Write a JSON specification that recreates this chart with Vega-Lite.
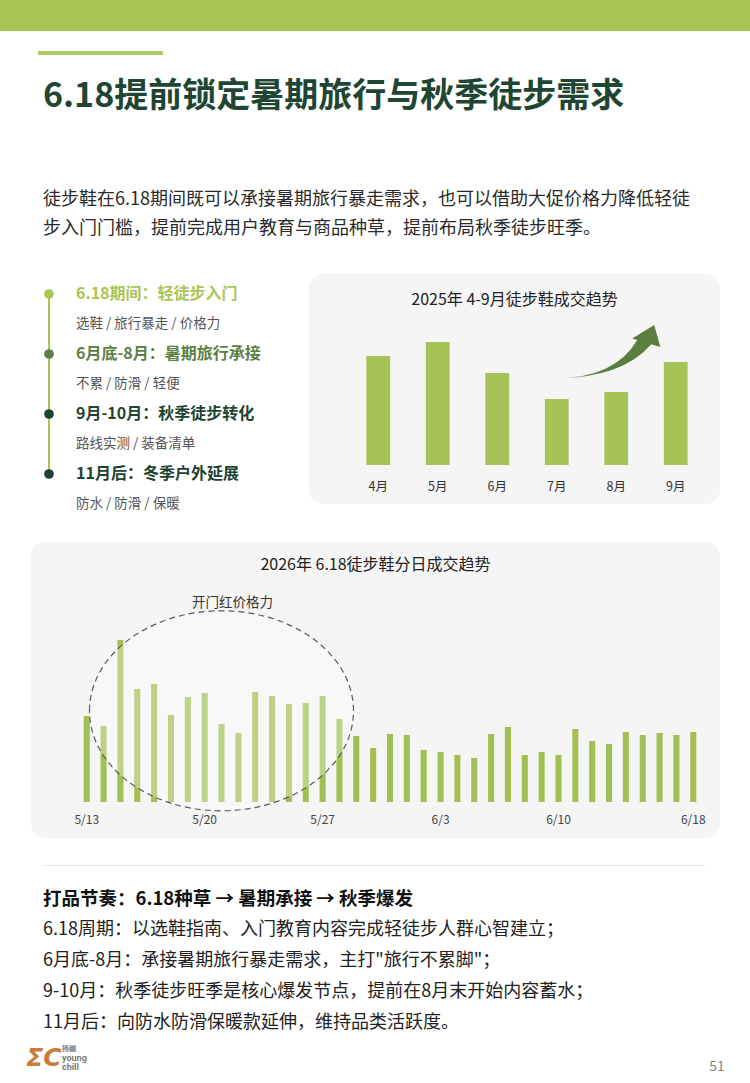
{
  "$schema": "https://vega.github.io/schema/vega-lite/v6.json",
  "description": "6.18提前锁定暑期旅行与秋季徒步需求: page with timeline, monthly trend bars and daily trend bars.",
  "width": 750,
  "height": 1083,
  "padding": 0,
  "autosize": {"type": "none"},
  "background": "#ffffff",
  "layer": [
    {
      "data": {"values": [{"part": "top band"}]},
      "mark": {"type": "rect", "color": "#a9c654"},
      "encoding": {
        "x": {"datum": "left", "type": "nominal", "scale": {"type": "point", "padding": 0, "domain": ["left", "right"], "range": [0, 750]}, "axis": null},
        "x2": {"datum": "right"},
        "y": {"datum": "top", "type": "nominal", "scale": {"type": "point", "padding": 0, "domain": ["top", "bottom"], "range": [0, 31]}, "axis": null},
        "y2": {"datum": "bottom"}
      }
    },
    {
      "data": {"values": [{"part": "accent"}]},
      "mark": {"type": "rect", "color": "#aecb63"},
      "encoding": {
        "x": {"datum": "left", "type": "nominal", "scale": {"type": "point", "padding": 0, "domain": ["left", "right"], "range": [38, 163]}, "axis": null},
        "x2": {"datum": "right"},
        "y": {"datum": "top", "type": "nominal", "scale": {"type": "point", "padding": 0, "domain": ["top", "bottom"], "range": [51, 55]}, "axis": null},
        "y2": {"datum": "bottom"}
      }
    },
    {
      "data": {"values": [{"text": "6.18提前锁定暑期旅行与秋季徒步需求"}]},
      "mark": {"type": "text", "align": "left", "baseline": "middle", "fontSize": 34, "fontWeight": "bold", "color": "#1e4633", "font": "Noto Sans CJK SC"},
      "encoding": {
        "x": {"datum": "start", "type": "nominal", "scale": {"type": "point", "padding": 0, "domain": ["start", "end"], "range": [43, 707]}, "axis": null},
        "y": {"datum": "title", "type": "nominal", "scale": {"type": "point", "padding": 0, "domain": ["title", "lead"], "range": [97, 200]}, "axis": null},
        "text": {"field": "text"}
      }
    },
    {
      "data": {"values": [
        {"line": "p1", "text": "徒步鞋在6.18期间既可以承接暑期旅行暴走需求，也可以借助大促价格力降低轻徒"},
        {"line": "p2", "text": "步入门门槛，提前完成用户教育与商品种草，提前布局秋季徒步旺季。"}
      ]},
      "mark": {"type": "text", "align": "left", "baseline": "middle", "fontSize": 18, "color": "#2a2a2a", "font": "Noto Sans CJK SC"},
      "encoding": {
        "x": {"datum": "start", "type": "nominal", "scale": {"type": "point", "padding": 0, "domain": ["start", "end"], "range": [43, 707]}, "axis": null},
        "y": {"field": "line", "type": "nominal", "scale": {"type": "point", "padding": 0, "domain": ["p1", "p2"], "range": [200, 229]}, "axis": null},
        "text": {"field": "text"}
      }
    },
    {
      "data": {"values": [
        {"row": "h1", "kind": "head", "stage": "s1", "text": "6.18期间：轻徒步入门"},
        {"row": "s1", "kind": "sub", "stage": "s1", "text": "选鞋 / 旅行暴走 / 价格力"},
        {"row": "h2", "kind": "head", "stage": "s2", "text": "6月底-8月：暑期旅行承接"},
        {"row": "s2", "kind": "sub", "stage": "s2", "text": "不累 / 防滑 / 轻便"},
        {"row": "h3", "kind": "head", "stage": "s3", "text": "9月-10月：秋季徒步转化"},
        {"row": "s3", "kind": "sub", "stage": "s3", "text": "路线实测 / 装备清单"},
        {"row": "h4", "kind": "head", "stage": "s4", "text": "11月后：冬季户外延展"},
        {"row": "s4", "kind": "sub", "stage": "s4", "text": "防水 / 防滑 / 保暖"}
      ]},
      "layer": [
        {
          "data": {"values": [{"from": "h1", "to": "h4"}]},
          "mark": {"type": "rule", "color": "#a9c654", "strokeWidth": 2},
          "encoding": {
            "x": {"datum": "dot", "type": "nominal", "scale": {"type": "point", "padding": 0, "domain": ["dot", "text"], "range": [49, 76]}, "axis": null},
            "y": {"field": "from", "type": "nominal", "scale": {"type": "point", "padding": 0, "domain": ["h1", "s1", "h2", "s2", "h3", "s3", "h4", "s4"], "range": [294, 504]}, "axis": null},
            "y2": {"field": "to"}
          }
        },
        {
          "transform": [{"filter": "datum.kind === 'head'"}],
          "mark": {"type": "point", "shape": "circle", "filled": true, "size": 95, "opacity": 1},
          "encoding": {
            "x": {"datum": "dot", "type": "nominal", "axis": null},
            "y": {"field": "row", "type": "nominal", "axis": null},
            "color": {"field": "stage", "type": "nominal", "scale": {"domain": ["s1", "s2", "s3", "s4"], "range": ["#a9c654", "#5e7f46", "#1f4331", "#1f4331"]}, "legend": null}
          }
        },
        {
          "transform": [{"filter": "datum.kind === 'head'"}],
          "mark": {"type": "text", "align": "left", "baseline": "middle", "fontSize": 16, "fontWeight": "bold", "font": "Noto Sans CJK SC"},
          "encoding": {
            "x": {"datum": "text", "type": "nominal", "axis": null},
            "y": {"field": "row", "type": "nominal", "axis": null},
            "color": {"field": "stage", "type": "nominal", "legend": null},
            "text": {"field": "text"}
          }
        },
        {
          "transform": [{"filter": "datum.kind === 'sub'"}],
          "mark": {"type": "text", "align": "left", "baseline": "middle", "fontSize": 13.5, "color": "#555555", "font": "Noto Sans CJK SC"},
          "encoding": {
            "x": {"datum": "text", "type": "nominal", "axis": null},
            "y": {"field": "row", "type": "nominal", "axis": null},
            "text": {"field": "text"}
          }
        }
      ]
    },
    {
      "layer": [
        {
          "data": {"values": [{"text": "2025年 4-9月徒步鞋成交趋势"}]},
          "layer": [
            {
              "mark": {"type": "rect", "color": "#f5f5f5", "cornerRadius": 14},
              "encoding": {
                "x": {"datum": "left", "type": "nominal", "scale": {"type": "point", "padding": 0, "domain": ["left", "mid", "right"], "range": [309, 720]}, "axis": null},
                "x2": {"datum": "right"},
                "y": {"datum": 191, "type": "quantitative", "axis": null},
                "y2": {"datum": -39}
              }
            },
            {
              "mark": {"type": "text", "align": "center", "baseline": "middle", "fontSize": 16, "color": "#222222", "font": "Noto Sans CJK SC"},
              "encoding": {
                "x": {"datum": "mid", "type": "nominal", "axis": null},
                "y": {"datum": 165, "type": "quantitative", "axis": null},
                "text": {"field": "text"}
              }
            }
          ]
        },
        {
          "data": {"values": [
            {"month": "4月", "value": 109},
            {"month": "5月", "value": 123},
            {"month": "6月", "value": 92},
            {"month": "7月", "value": 66},
            {"month": "8月", "value": 73},
            {"month": "9月", "value": 103}
          ]},
          "layer": [
            {
              "mark": {"type": "bar", "color": "#a7c256"},
              "encoding": {
                "x": {"field": "month", "type": "nominal", "scale": {"type": "band", "domain": ["4月", "5月", "6月", "7月", "8月", "9月"], "range": [348.5, 705.5], "paddingInner": 0.6, "paddingOuter": 0.3}, "axis": null},
                "y": {"field": "value", "type": "quantitative", "scale": {"domain": [0, 200], "range": [465, 265], "nice": false}, "axis": null}
              }
            },
            {
              "mark": {"type": "text", "align": "center", "baseline": "middle", "fontSize": 12.5, "color": "#333333", "font": "Noto Sans CJK SC"},
              "encoding": {
                "x": {"field": "month", "type": "nominal", "axis": null},
                "y": {"datum": -22, "type": "quantitative", "axis": null},
                "text": {"field": "month"}
              }
            },
            {
              "data": {"values": [{"note": "trend up"}]},
              "mark": {"type": "point", "shape": "M-61,26Q-1,25.5,21,-12.5L16,-14L38,-27.5L44,-5.5L35,-8.2Q6,25.5,-61,26Z", "size": 4, "filled": true, "color": "#5b7e3c", "opacity": 1},
              "encoding": {
                "x": {"datum": "8月", "type": "nominal", "axis": null},
                "y": {"datum": 112.5, "type": "quantitative", "axis": null}
              }
            }
          ]
        }
      ],
      "resolve": {"scale": {"x": "independent"}}
    },
    {
      "layer": [
        {
          "data": {"values": [{"text": "2026年 6.18徒步鞋分日成交趋势"}]},
          "layer": [
            {
              "mark": {"type": "rect", "color": "#f5f5f5", "cornerRadius": 14},
              "encoding": {
                "x": {"datum": "left", "type": "nominal", "scale": {"type": "point", "padding": 0, "domain": ["left", "mid", "right"], "range": [31, 720]}, "axis": null},
                "x2": {"datum": "right"},
                "y": {"datum": 260, "type": "quantitative", "axis": null},
                "y2": {"datum": -36}
              }
            },
            {
              "mark": {"type": "text", "align": "center", "baseline": "middle", "fontSize": 16, "color": "#222222", "font": "Noto Sans CJK SC"},
              "encoding": {
                "x": {"datum": "mid", "type": "nominal", "axis": null},
                "y": {"datum": 237, "type": "quantitative", "axis": null},
                "text": {"field": "text"}
              }
            }
          ]
        },
        {
          "data": {"values": [
            {"date": "5/13", "value": 86}, {"date": "5/14", "value": 76}, {"date": "5/15", "value": 162},
            {"date": "5/16", "value": 113}, {"date": "5/17", "value": 118}, {"date": "5/18", "value": 87},
            {"date": "5/19", "value": 105}, {"date": "5/20", "value": 109}, {"date": "5/21", "value": 78},
            {"date": "5/22", "value": 69}, {"date": "5/23", "value": 110}, {"date": "5/24", "value": 106},
            {"date": "5/25", "value": 98}, {"date": "5/26", "value": 99}, {"date": "5/27", "value": 106},
            {"date": "5/28", "value": 83}, {"date": "5/29", "value": 66}, {"date": "5/30", "value": 54},
            {"date": "5/31", "value": 68}, {"date": "6/1", "value": 67}, {"date": "6/2", "value": 52},
            {"date": "6/3", "value": 50}, {"date": "6/4", "value": 47}, {"date": "6/5", "value": 44},
            {"date": "6/6", "value": 68}, {"date": "6/7", "value": 75}, {"date": "6/8", "value": 47},
            {"date": "6/9", "value": 50}, {"date": "6/10", "value": 47}, {"date": "6/11", "value": 73},
            {"date": "6/12", "value": 61}, {"date": "6/13", "value": 58}, {"date": "6/14", "value": 70},
            {"date": "6/15", "value": 67}, {"date": "6/16", "value": 69}, {"date": "6/17", "value": 67},
            {"date": "6/18", "value": 70}
          ]},
          "layer": [
            {
              "mark": {"type": "bar", "color": "#a3bf53"},
              "encoding": {
                "x": {"field": "date", "type": "nominal", "scale": {"type": "band", "domain": ["5/13", "5/14", "5/15", "5/16", "5/17", "5/18", "5/19", "5/20", "5/21", "5/22", "5/23", "5/24", "5/25", "5/26", "5/27", "5/28", "5/29", "5/30", "5/31", "6/1", "6/2", "6/3", "6/4", "6/5", "6/6", "6/7", "6/8", "6/9", "6/10", "6/11", "6/12", "6/13", "6/14", "6/15", "6/16", "6/17", "6/18"], "range": [78.3, 701.7], "paddingInner": 0.64, "paddingOuter": 0.32}, "axis": null},
                "y": {"field": "value", "type": "quantitative", "scale": {"domain": [0, 200], "range": [802, 602], "nice": false}, "axis": null}
              }
            },
            {
              "data": {"values": [{"date": "5/13"}, {"date": "5/20"}, {"date": "5/27"}, {"date": "6/3"}, {"date": "6/10"}, {"date": "6/18"}]},
              "mark": {"type": "text", "align": "center", "baseline": "middle", "fontSize": 12, "color": "#444444", "font": "Noto Sans CJK SC"},
              "encoding": {
                "x": {"field": "date", "type": "nominal", "axis": null},
                "y": {"datum": -18, "type": "quantitative", "axis": null},
                "text": {"field": "date"}
              }
            },
            {
              "data": {"values": [{"note": "开门红价格力"}]},
              "mark": {"type": "point", "shape": "M-132,0A132,100,0,1,1,132,0A132,100,0,1,1,-132,0Z", "size": 4, "filled": true, "fill": "#ffffff", "fillOpacity": 0.3, "stroke": "#5a5a5a", "strokeWidth": 1.2, "strokeDash": [6, 4], "opacity": 1},
              "encoding": {
                "x": {"datum": "5/21", "type": "nominal", "axis": null},
                "y": {"datum": 91.2, "type": "quantitative", "axis": null}
              }
            },
            {
              "data": {"values": [{"note": "开门红价格力"}]},
              "mark": {"type": "text", "align": "center", "baseline": "middle", "fontSize": 13.5, "color": "#333333", "dx": 11, "font": "Noto Sans CJK SC"},
              "encoding": {
                "x": {"datum": "5/21", "type": "nominal", "axis": null},
                "y": {"datum": 199, "type": "quantitative", "axis": null},
                "text": {"field": "note"}
              }
            }
          ]
        }
      ],
      "resolve": {"scale": {"x": "independent"}}
    },
    {
      "data": {"values": [{"part": "divider"}]},
      "mark": {"type": "rule", "color": "#e6e6e6", "strokeWidth": 1},
      "encoding": {
        "x": {"datum": "left", "type": "nominal", "scale": {"type": "point", "padding": 0, "domain": ["left", "right"], "range": [43, 705]}, "axis": null},
        "x2": {"datum": "right"},
        "y": {"datum": "divider", "type": "nominal", "scale": {"type": "point", "padding": 0, "domain": ["divider", "below"], "range": [865.5, 900]}, "axis": null}
      }
    },
    {
      "data": {"values": [
        {"line": "l1", "text": "打品节奏：6.18种草 → 暑期承接 → 秋季爆发"},
        {"line": "l2", "text": "6.18周期：以选鞋指南、入门教育内容完成轻徒步人群心智建立；"},
        {"line": "l3", "text": "6月底-8月：承接暑期旅行暴走需求，主打\"旅行不累脚\"；"},
        {"line": "l4", "text": "9-10月：秋季徒步旺季是核心爆发节点，提前在8月末开始内容蓄水；"},
        {"line": "l5", "text": "11月后：向防水防滑保暖款延伸，维持品类活跃度。"}
      ]},
      "layer": [
        {
          "transform": [{"filter": "datum.line === 'l1'"}],
          "mark": {"type": "text", "align": "left", "baseline": "middle", "fontSize": 18.5, "fontWeight": "bold", "color": "#111111", "font": "Noto Sans CJK SC"},
          "encoding": {
            "x": {"datum": "start", "type": "nominal", "scale": {"type": "point", "padding": 0, "domain": ["start", "end"], "range": [43, 707]}, "axis": null},
            "y": {"field": "line", "type": "nominal", "scale": {"type": "point", "padding": 0, "domain": ["l1", "l2", "l3", "l4", "l5"], "range": [899, 1023]}, "axis": null},
            "text": {"field": "text"}
          }
        },
        {
          "transform": [{"filter": "datum.line !== 'l1'"}],
          "mark": {"type": "text", "align": "left", "baseline": "middle", "fontSize": 18, "color": "#222222", "font": "Noto Sans CJK SC"},
          "encoding": {
            "x": {"datum": "start", "type": "nominal", "axis": null},
            "y": {"field": "line", "type": "nominal", "axis": null},
            "text": {"field": "text"}
          }
        }
      ]
    },
    {
      "data": {"values": [
        {"row": "a", "part": "mark", "text": "扬樾"},
        {"row": "b", "part": "word", "text": "young"},
        {"row": "c", "part": "word", "text": "chill"}
      ]},
      "layer": [
        {
          "data": {"values": [{"row": "b", "text": "ΣC"}]},
          "mark": {"type": "text", "align": "center", "baseline": "middle", "fontSize": 25, "fontWeight": "bold", "fontStyle": "italic", "color": "#c97b3a", "font": "DejaVu Sans"},
          "encoding": {
            "x": {"datum": "icon", "type": "nominal", "scale": {"type": "point", "padding": 0, "domain": ["icon", "words"], "range": [44, 62]}, "axis": null},
            "y": {"field": "row", "type": "nominal", "scale": {"type": "point", "padding": 0, "domain": ["a", "b", "c"], "range": [1049, 1067]}, "axis": null},
            "text": {"field": "text"}
          }
        },
        {
          "transform": [{"filter": "datum.part === 'mark'"}],
          "mark": {"type": "text", "align": "left", "baseline": "middle", "fontSize": 7, "fontWeight": "bold", "color": "#7a7a7a", "font": "Noto Sans CJK SC"},
          "encoding": {
            "x": {"datum": "words", "type": "nominal", "axis": null},
            "y": {"field": "row", "type": "nominal", "axis": null},
            "text": {"field": "text"}
          }
        },
        {
          "transform": [{"filter": "datum.part === 'word'"}],
          "mark": {"type": "text", "align": "left", "baseline": "middle", "fontSize": 9, "fontWeight": "bold", "color": "#7a7a7a", "font": "Roboto"},
          "encoding": {
            "x": {"datum": "words", "type": "nominal", "axis": null},
            "y": {"field": "row", "type": "nominal", "axis": null},
            "text": {"field": "text"}
          }
        }
      ]
    },
    {
      "data": {"values": [{"text": "51"}]},
      "mark": {"type": "text", "align": "center", "baseline": "middle", "fontSize": 14, "color": "#888888", "font": "Noto Sans CJK SC"},
      "encoding": {
        "x": {"datum": "page", "type": "nominal", "scale": {"type": "point", "padding": 0, "domain": ["page", "edge"], "range": [717, 750]}, "axis": null},
        "y": {"datum": "page", "type": "nominal", "scale": {"type": "point", "padding": 0, "domain": ["page", "edge"], "range": [1067, 1083]}, "axis": null},
        "text": {"field": "text"}
      }
    }
  ],
  "resolve": {"scale": {"x": "independent", "y": "independent", "color": "independent"}},
  "config": {
    "view": {"stroke": null},
    "font": "Noto Sans CJK SC"
  }
}
